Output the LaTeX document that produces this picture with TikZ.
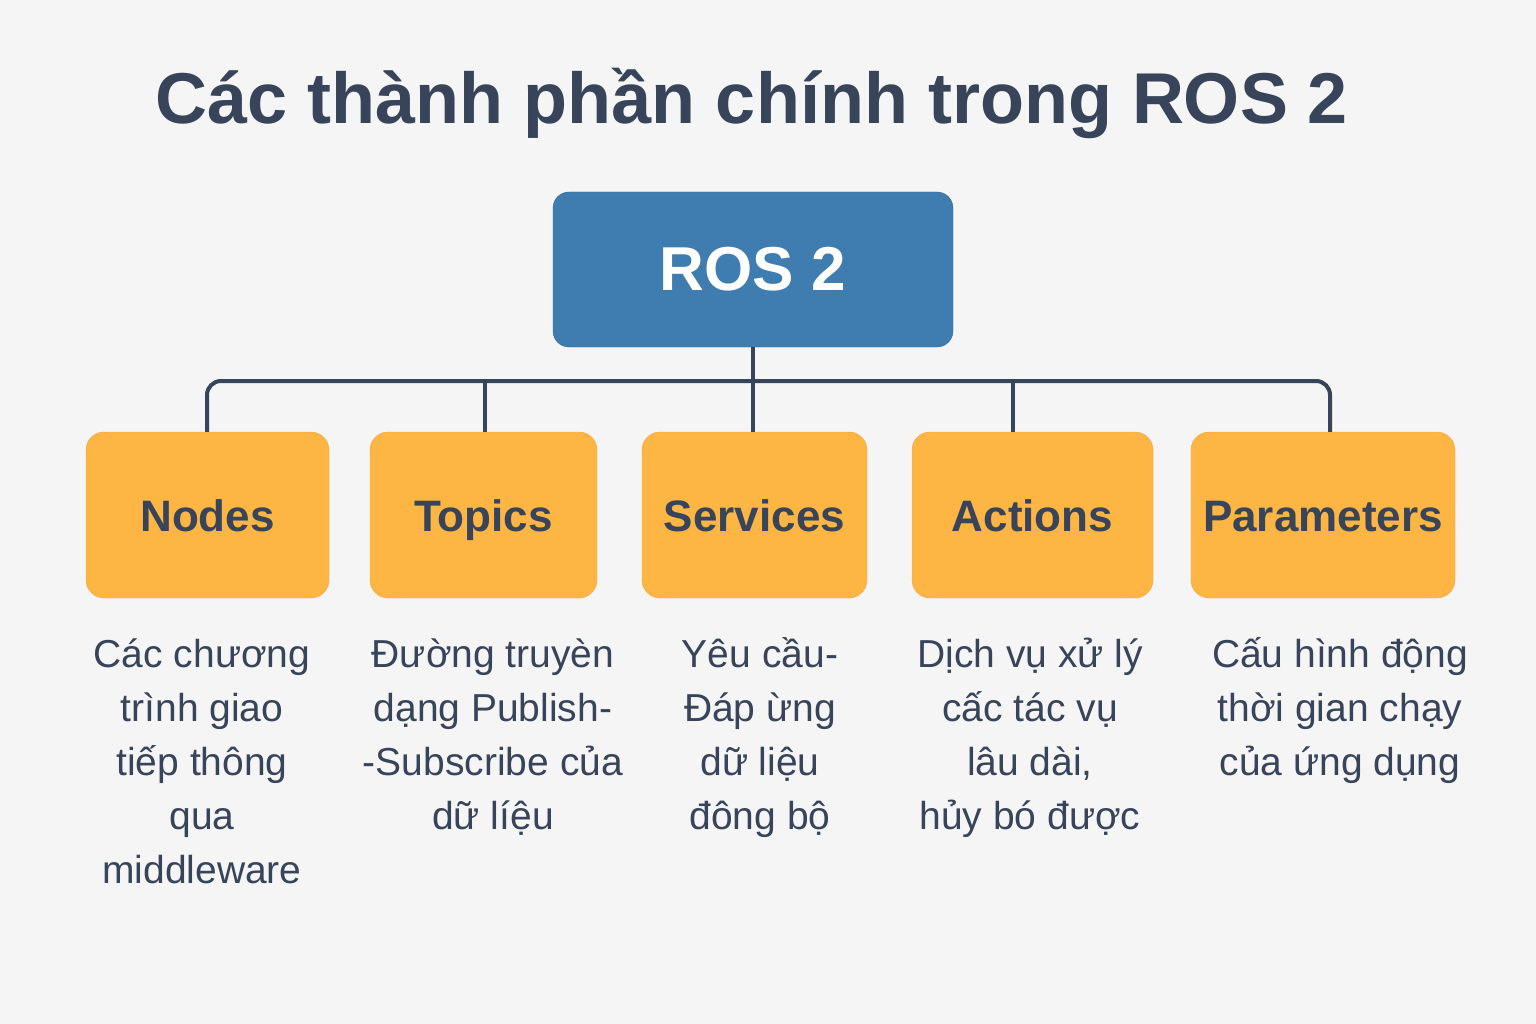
\documentclass[tikz,border=0pt]{standalone}
\usepackage{fontspec}
\setmainfont{Liberation Sans}
\usetikzlibrary{positioning}
\definecolor{bgc}{HTML}{F5F5F5}
\definecolor{inkc}{HTML}{37445A}
\definecolor{rosblue}{HTML}{3F7CB0}
\definecolor{partorange}{HTML}{FDB544}
\tikzset{
  rootbox/.style={draw=rosblue!85!black, fill=rosblue, rounded corners=16pt, minimum width=400pt,
    minimum height=155pt, text=white, font=\fontsize{62}{66}\selectfont\bfseries},
  partbox/.style={draw=partorange!90!red, fill=partorange, rounded corners=18pt, minimum width=#1,
    minimum height=166pt, text height=33pt, text depth=0pt, text=inkc,
    font=\fontsize{44}{48}\selectfont\bfseries},
  desc/.style={text=inkc, align=center, anchor=base, font=\fontsize{39}{54}\selectfont},
  link/.style={draw=inkc, line width=4pt},
}

\begin{document}
\begin{tikzpicture}[x=1pt, y=-1pt]
  \fill[bgc] (0,0) rectangle (1536,1024);
  \useasboundingbox (0,0) rectangle (1536,1024);

  \node[text=inkc, font=\fontsize{72}{76}\selectfont\bfseries] (title) at (752,103) {Các thành phần chính trong ROS 2};

  \node[rootbox] (ros) at (753,269.5) {ROS 2};

  \node[partbox=243pt] (nodes) at (207.5,515) {Nodes};
  \node[partbox=227pt] (topics) at (483.5,515) {Topics};
  \node[partbox=225pt] (services) at (754.5,515) {Services};
  \node[partbox=241pt] (actions) at (1032.5,515) {Actions};
  \node[partbox=264pt] (params) at (1323,515) {Parameters};

  % tree connectors
  \coordinate (bar) at (753,381);
  \draw[link] (ros.south) -- (ros.south |- services.north);
  \draw[link, rounded corners=14pt] (nodes.north -| 207,0) -- (bar -| 207,0) -- (bar -| 1330,0) -- (params.north -| 1330,0);
  \draw[link] (topics.north -| 485,0) -- (bar -| 485,0);
  \draw[link] (actions.north -| 1013,0) -- (bar -| 1013,0);

  % descriptions (base = last line)
  \node[desc] (dnodes) at (202,883) {Các chương\\trình giao\\tiếp thông\\qua\\middleware};
  \node[desc] (dtopics) at (493,829) {Đường truyèn\\dạng Publish-\\-Subscribe của\\dữ líệu};
  \node[desc] (dservices) at (760,829) {Yêu cầu-\\Đáp ừng\\dữ liệu\\đông bộ};
  \node[desc] (dactions) at (1030,829) {Dịch vụ xử lý\\cấc tác vụ\\lâu dài,\\hủy bó được};
  \node[desc] (dparams) at (1340,775) {Cấu hình động\\thời gian chạy\\của ứng dụng};
\end{tikzpicture}
\end{document}
